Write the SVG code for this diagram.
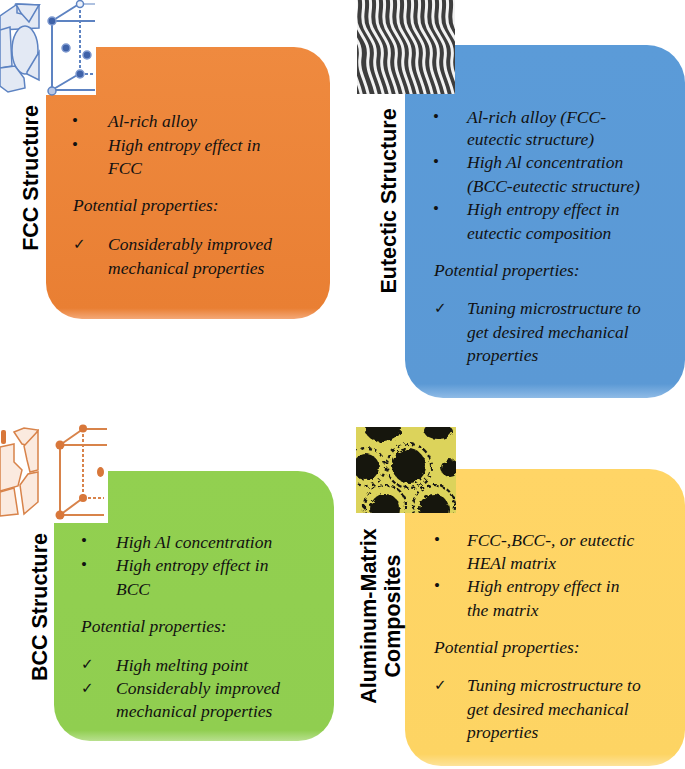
<svg xmlns="http://www.w3.org/2000/svg" width="685" height="769" viewBox="0 0 685 769">
<style>
.t{font-family:"Liberation Serif",serif;font-style:italic;font-size:17.5px;fill:#111}
.b{font-family:"Liberation Serif",serif;font-size:17px;fill:#111}
.c{font-family:"DejaVu Sans",sans-serif;font-size:15px;fill:#111}
.h{font-family:"Liberation Sans",sans-serif;font-weight:700;font-size:21.5px;fill:#000;text-anchor:middle}
.blu{fill:none;stroke:#5d83c2;stroke-width:2}
.bl2{fill:#e3e9f4;stroke:#5d83c2;stroke-width:1.5}
.dot{fill:#3f62a8;stroke:#7f9ad0;stroke-width:1.5}
.org{fill:none;stroke:#d8834a;stroke-width:2}
.or2{fill:#fbeadf;stroke:#d8834a;stroke-width:1.5}
.od{fill:#d8773a}
.w{fill:none;stroke:#f2f2f2;stroke-width:3;stroke-linecap:round}
.k{fill:none;stroke:#151515;stroke-width:2.2}
.hole{fill:#15150c}
</style>
<defs>
<linearGradient id="go" x1="0" y1="0" x2="0" y2="1"><stop offset="0" stop-color="#ef8a3f"/><stop offset=".96" stop-color="#e97f33"/><stop offset="1" stop-color="#f4a877"/></linearGradient>
<linearGradient id="gb" x1="0" y1="0" x2="0" y2="1"><stop offset="0" stop-color="#5b9bd8"/><stop offset=".96" stop-color="#5b99d5"/><stop offset="1" stop-color="#8fbbe6"/></linearGradient>
<linearGradient id="gg" x1="0" y1="0" x2="0" y2="1"><stop offset="0" stop-color="#92d050"/><stop offset=".96" stop-color="#90ce50"/><stop offset="1" stop-color="#b8e08e"/></linearGradient>
<linearGradient id="gy" x1="0" y1="0" x2="0" y2="1"><stop offset="0" stop-color="#ffd566"/><stop offset=".96" stop-color="#fdd463"/><stop offset="1" stop-color="#fde39a"/></linearGradient>
<filter id="rough" x="-5%" y="-5%" width="110%" height="110%"><feTurbulence type="fractalNoise" baseFrequency=".25" numOctaves="2" seed="4"/><feDisplacementMap in="SourceGraphic" scale="6"/></filter>
<filter id="rough2" x="-5%" y="-5%" width="110%" height="110%"><feTurbulence type="fractalNoise" baseFrequency=".12" numOctaves="2" seed="7"/><feDisplacementMap in="SourceGraphic" scale="7"/></filter>
<clipPath id="c1"><rect x="357" y="0" width="98" height="94"/></clipPath>
<clipPath id="c2"><rect x="356" y="427" width="100" height="86"/></clipPath>
<path id="wave" d="M0-6c5 14-3 22 3 34s12 16 10 30 6 22 9 40"/>
</defs>

<g id="fcc-structure">
<rect x="46" y="47" width="284" height="272" rx="36" fill="url(#go)"/>
<rect x="0" y="0" width="96" height="95" fill="#fff"/>
<path class="bl2" d="M0 16 16 5 39 5 39 28 0 30Z"/>
<path class="bl2" d="M16 5H39L28 16Z"/>
<path class="bl2" d="M17 4 39 5 30 16 17 13Z"/>
<path class="bl2" d="M16 4 39 5 29 22 21 13Z"/>
<ellipse class="bl2" cx="25" cy="50" rx="13" ry="24"/>
<path class="bl2" d="M0 30 10 27 12 66 0 68Z"/>
<path class="bl2" d="M0 68 15 66 24 78 25 88 8 92 0 86Z"/>
<path class="bl2" d="M27 72 39 52 39 80 27 74Z"/>
<path class="blu" d="M52 21V90M52 21 79 4M52 21H95M52 90 79 74M52 90H95"/>
<path class="blu" stroke-dasharray="3 2" d="M80 5V74M80 74H94"/>
<path class="blu" d="M80 4H95" stroke-opacity=".5"/>
<circle class="dot" cx="52" cy="21" r="4"/><circle cx="80" cy="4" r="3.5" fill="#eef2fa" stroke="#5d83c2" stroke-width="1.5"/>
<circle class="dot" cx="66" cy="48" r="4"/><circle class="dot" cx="87" cy="55" r="4"/><circle class="dot" cx="80" cy="74" r="4"/>
<circle cx="52" cy="91" r="4" fill="#b9c8e6" stroke="#5d83c2" stroke-width="1.5"/>
<text class="h" transform="translate(38 178) rotate(-90)">FCC Structure</text>
<text class="b" x="72" y="126">•</text><text class="t" x="108" y="127">Al-rich alloy</text>
<text class="b" x="72" y="150">•</text><text class="t" x="108" y="151">High entropy effect in</text>
<text class="t" x="108" y="174">FCC</text>
<text class="t" x="73" y="211">Potential properties:</text>
<text class="c" x="73" y="249">✓</text><text class="t" x="108" y="250">Considerably improved</text>
<text class="t" x="108" y="274">mechanical properties</text>
</g>

<g id="eutectic-structure">
<rect x="405" y="45" width="280" height="353" rx="38" fill="url(#gb)"/>
<rect x="405" y="45" width="50" height="49" fill="#fff"/>
<g clip-path="url(#c1)">
<rect x="357" y="0" width="98" height="94" fill="#3d3d3d"/>
<g class="w" stroke="#eee">
<use href="#wave" x="355"/><use href="#wave" x="362"/><use href="#wave" x="369"/><use href="#wave" x="376"/><use href="#wave" x="383"/><use href="#wave" x="390"/><use href="#wave" x="397"/><use href="#wave" x="404"/><use href="#wave" x="411"/><use href="#wave" x="418"/><use href="#wave" x="425"/><use href="#wave" x="432"/><use href="#wave" x="439"/><use href="#wave" x="446"/><use href="#wave" x="453"/><use href="#wave" x="340"/><use href="#wave" x="347"/>
</g>
</g>
<text class="h" transform="translate(396 201) rotate(-90)">Eutectic Structure</text>
<text class="b" x="433" y="122">•</text><text class="t" x="467" y="123">Al-rich alloy (FCC-</text>
<text class="t" x="467" y="145">eutectic structure)</text>
<text class="b" x="433" y="167">•</text><text class="t" x="467" y="168">High Al concentration</text>
<text class="t" x="467" y="192">(BCC-eutectic structure)</text>
<text class="b" x="433" y="214">•</text><text class="t" x="467" y="215">High entropy effect in</text>
<text class="t" x="467" y="239">eutectic composition</text>
<text class="t" x="434" y="276">Potential properties:</text>
<text class="c" x="434" y="313">✓</text><text class="t" x="467" y="314">Tuning microstructure to</text>
<text class="t" x="467" y="338">get desired mechanical</text>
<text class="t" x="467" y="361">properties</text>
</g>

<g id="bcc-structure">
<rect x="54" y="471" width="280" height="270" rx="36" fill="url(#gg)"/>
<rect x="0" y="425" width="108" height="98" fill="#fff"/>
<rect x="1" y="430" width="5" height="14" rx="2" fill="#d8773a"/>
<path class="or2" d="M14 432 24 428 38 430 30 446 22 444Z"/>
<path class="or2" d="M0 447 14 444 14 462 22 470 18 486 0 491Z"/>
<path class="or2" d="M24 446 38 431 38 470 30 472 27 460Z"/>
<path class="or2" d="M0 492 14 488 18 514 0 516Z"/>
<path class="or2" d="M20 485 28 474 38 472 38 502 24 514Z"/>
<path class="org" d="M60 445V515M60 445 83 429M60 445H107M60 515 83 498M60 515H104M83 429H107"/>
<path class="org" stroke-dasharray="3 2" d="M83 429V498M83 498H104"/>
<circle class="od" cx="60" cy="445" r="4.5"/><circle class="od" cx="83" cy="428.500" r="4"/><circle class="od" cx="83" cy="498" r="4"/><circle class="od" cx="60" cy="515" r="4.500"/>
<ellipse class="od" cx="100.500" cy="472" rx="3.500" ry="5"/>
<text class="h" transform="translate(47 607) rotate(-90)">BCC Structure</text>
<text class="b" x="81" y="546">•</text><text class="t" x="116" y="548">High Al concentration</text>
<text class="b" x="81" y="570">•</text><text class="t" x="116" y="571">High entropy effect in</text>
<text class="t" x="116" y="595">BCC</text>
<text class="t" x="81" y="632">Potential properties:</text>
<text class="c" x="81" y="669">✓</text><text class="t" x="116" y="671">High melting point</text>
<text class="c" x="81" y="693">✓</text><text class="t" x="116" y="694">Considerably improved</text>
<text class="t" x="116" y="717">mechanical properties</text>
</g>

<g id="aluminum-matrix-composites">
<rect x="405" y="469" width="280" height="297" rx="36" fill="url(#gy)"/>
<rect x="405" y="469" width="51" height="44" fill="#fff"/>
<g clip-path="url(#c2)">
<rect x="356" y="427" width="100" height="86" fill="#dcd35b"/>
<g filter="url(#rough)">
<circle class="hole" cx="409" cy="466" r="17"/>
<circle class="hole" cx="366" cy="467" r="13"/>
<circle class="hole" cx="450" cy="468" r="9"/>
<ellipse class="hole" cx="383" cy="429" rx="18" ry="13"/>
<ellipse class="hole" cx="438" cy="431" rx="14" ry="8"/>
<circle class="hole" cx="385" cy="509" r="15"/>
<circle class="hole" cx="434" cy="509" r="15"/>
<circle class="k" cx="409" cy="466" r="22" stroke-dasharray="4 3"/>
<circle class="k" cx="385" cy="506" r="21" stroke-dasharray="4 3"/>
<circle class="k" cx="366" cy="467" r="19" stroke-dasharray="3 4"/>
<circle class="k" cx="434" cy="506" r="21" stroke-dasharray="4 3"/>
</g>
</g>
<text class="h" transform="translate(376 616) rotate(-90)">Aluminum-Matrix</text>
<text class="h" transform="translate(400 616) rotate(-90)">Composites</text>
<text class="b" x="434" y="545">•</text><text class="t" x="467" y="546">FCC-,BCC-, or eutectic</text>
<text class="t" x="467" y="569">HEAl matrix</text>
<text class="b" x="434" y="591">•</text><text class="t" x="467" y="592">High entropy effect in</text>
<text class="t" x="467" y="616">the matrix</text>
<text class="t" x="434" y="653">Potential properties:</text>
<text class="c" x="434" y="690">✓</text><text class="t" x="467" y="691">Tuning microstructure to</text>
<text class="t" x="467" y="715">get desired mechanical</text>
<text class="t" x="467" y="738">properties</text>
</g>
</svg>
